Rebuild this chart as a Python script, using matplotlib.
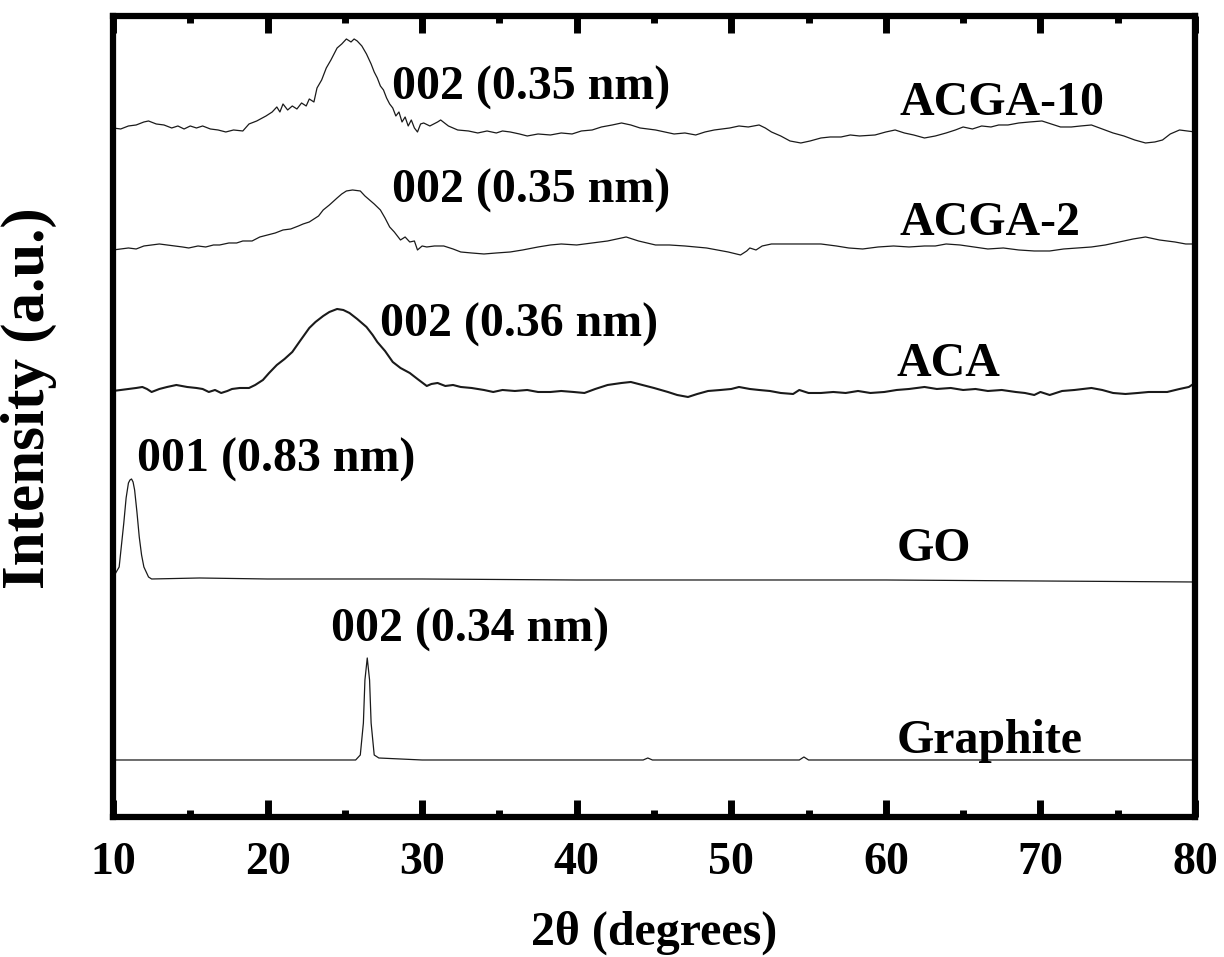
import matplotlib
matplotlib.use("Agg")
import matplotlib.pyplot as plt
from matplotlib.ticker import MultipleLocator

# ---- data (2theta in degrees, intensity in a.u. relative to each baseline) ----
acga10_tt = [10.0, 10.5, 11.0, 11.5, 12.0, 12.3, 12.8, 13.3, 13.8, 14.2, 14.6, 15.0, 15.4, 15.8, 16.3,
             16.8, 17.3, 17.8, 18.4, 18.8, 19.3, 19.9, 20.3, 20.6, 20.8, 21.0, 21.3, 21.6, 21.9, 22.2,
             22.5, 22.7, 23.0, 23.2, 23.5, 23.8, 24.1, 24.5, 24.8, 25.1, 25.4, 25.6, 25.8, 26.1, 26.4,
             26.7, 26.9, 27.1, 27.3, 27.5, 27.7, 27.9, 28.1, 28.3, 28.5, 28.7, 28.9, 29.1, 29.3, 29.5,
             29.7, 29.9, 30.1, 30.5, 31.0, 31.2, 31.7, 32.3, 33.0, 33.6, 34.2, 34.8, 35.2, 35.7, 36.3,
             36.8, 37.5, 38.3, 39.0, 39.7, 40.3, 41.0, 41.6, 42.3, 42.9, 43.5, 44.1, 44.6, 45.1, 45.7,
             46.3, 47.0, 47.7, 48.3, 48.9, 49.4, 49.9, 50.5, 51.1, 51.8, 52.2, 52.6, 53.2, 53.8, 54.5,
             55.1, 55.8, 56.4, 57.1, 57.7, 58.3, 59.3, 60.0, 60.6, 61.2, 61.8, 62.5, 63.2, 63.9, 64.5,
             65.0, 65.6, 66.2, 66.8, 67.3, 67.9, 68.6, 69.3, 70.1, 70.7, 71.3, 72.0, 72.6, 73.3, 74.0,
             74.7, 75.4, 76.1, 76.8, 77.4, 77.9, 78.4, 79.0, 79.5, 80.0]
acga10_int = [2, 1, 4, 5, 8, 9, 6, 5, 2, 4, 1, 4, 2, 4, 1,
              0, -2, 0, -1, 6, 9, 14, 18, 23, 18, 26, 20, 24, 21, 27,
              24, 31, 28, 42, 50, 62, 70, 82, 86, 91, 88, 91, 89, 84, 76,
              66, 58, 52, 44, 40, 32, 26, 22, 14, 18, 8, 13, 4, 10, 2,
              -2, 6, 7, 4, 8, 10, 4, 0, -1, -3, -1, -3, -1, -2, -4,
              -6, -4, -5, -3, -4, -1, 0, 3, 5, 7, 5, 2, 1, 0, -2,
              -4, -3, -5, -2, 0, 1, 2, 4, 3, 5, 2, -2, -6, -11, -13,
              -11, -8, -7, -7, -5, -6, -5, -2, 0, -3, -5, -8, -6, -3, 0,
              3, 1, 4, 3, 5, 5, 7, 8, 9, 6, 3, 3, 4, 5, 1,
              -3, -6, -10, -13, -12, -10, -4, 0, -1, -2]

acga2_tt = [10.0, 10.5, 11.0, 11.5, 12.0, 12.5, 13.0, 13.5, 14.0, 14.5, 14.9, 15.5, 16.0, 16.5, 16.9,
            17.5, 18.0, 18.4, 19.0, 19.5, 20.0, 20.5, 21.0, 21.5, 22.0, 22.3, 22.7, 23.0, 23.3, 23.6,
            24.0, 24.5, 24.8, 25.1, 25.5, 26.0, 26.3, 26.6, 26.9, 27.3, 27.6, 27.9, 28.2, 28.6, 28.9,
            29.2, 29.5, 29.7, 30.0, 30.3, 30.8, 31.4, 32.0, 32.5, 33.2, 34.0, 34.8, 35.7, 36.5, 37.5,
            38.3, 39.0, 40.0, 41.0, 42.0, 43.2, 44.0, 45.1, 46.0, 47.0, 47.7, 48.4, 49.1, 49.8, 50.6,
            51.0, 51.2, 51.6, 52.0, 52.6, 53.5, 54.5, 55.8, 56.8, 57.6, 58.5, 59.5, 60.5, 61.5, 62.5,
            63.2, 63.9, 64.8, 65.7, 66.6, 67.6, 68.6, 69.6, 70.6, 71.5, 72.4, 73.3, 74.2, 75.1, 76.0,
            76.8, 77.7, 78.7, 79.4, 80.0]
acga2_int = [-4, -3, -2, -3, 0, 1, 2, 1, 0, -1, -2, 0, -1, 1, 1,
             3, 3, 5, 5, 9, 11, 13, 16, 17, 20, 22, 24, 27, 30, 36,
             41, 48, 52, 55, 56, 55, 50, 46, 42, 36, 28, 19, 14, 6, 9,
             4, 5, -4, 0, -1, 0, 0, -3, -6, -7, -8, -7, -6, -4, -1,
             1, 2, 1, 3, 5, 9, 5, 1, 1, 0, -1, -2, -4, -6, -9,
             -5, -2, -4, 0, 2, 2, 2, 2, 0, -2, -3, -1, 0, -1, 0,
             0, 2, 1, -1, -3, -2, -4, -5, -5, -3, -2, -1, 1, 4, 7,
             9, 6, 4, 2, 2]

aca_tt = [10.0, 10.5, 11.0, 11.5, 11.9, 12.2, 12.5, 13.0, 13.5, 14.1, 14.8, 15.4, 15.8, 16.2, 16.6,
          17.0, 17.4, 17.7, 18.2, 18.8, 19.2, 19.7, 20.1, 20.6, 21.1, 21.6, 22.1, 22.7, 23.1, 23.6,
          24.0, 24.5, 24.9, 25.3, 25.8, 26.4, 26.8, 27.1, 27.6, 28.1, 28.6, 29.2, 29.7, 30.3, 30.6,
          31.0, 31.5, 32.0, 32.5, 33.2, 34.0, 34.6, 35.2, 36.0, 36.8, 37.5, 38.3, 39.0, 39.8, 40.5,
          41.2, 42.0, 42.9, 43.5, 44.0, 45.0, 45.9, 46.5, 47.2, 47.8, 48.5, 49.3, 50.0, 50.5, 51.2,
          51.8, 52.5, 53.2, 54.0, 54.4, 55.0, 55.8, 56.6, 57.4, 58.2, 59.0, 59.9, 60.7, 61.5, 62.5,
          63.3, 64.2, 65.0, 65.8, 66.6, 67.5, 68.4, 69.0, 69.6, 70.0, 70.6, 71.4, 72.2, 73.3, 74.0,
          74.7, 75.5, 76.3, 77.0, 78.2, 79.0, 79.6, 80.0]
aca_int = [0, 1, 2, 3, 4, 2, -1, 2, 4, 6, 4, 3, 2, -1, 1,
           -2, 0, 2, 3, 3, 6, 11, 18, 26, 32, 39, 50, 63, 69, 75,
           79, 82, 81, 78, 72, 64, 56, 49, 40, 29, 23, 18, 12, 5, 7,
           8, 5, 6, 4, 3, 1, -1, 1, 0, 1, -1, -1, 0, -1, -2,
           2, 6, 8, 9, 7, 3, -1, -4, -6, -3, 0, 1, 2, 4, 2,
           1, 0, -2, -3, 1, -2, -2, -1, -2, 0, -2, -1, 1, 2, 4,
           2, 3, 1, 2, 0, 1, -1, -2, -4, -1, -4, 0, 1, 3, 1,
           -2, -3, -2, -1, -1, 2, 4, 8]

go_tt = [10.0, 10.1, 10.4, 10.55, 10.7, 10.85, 11.0, 11.1, 11.2, 11.3, 11.4, 11.55, 11.7, 11.85, 12.0,
         12.3, 12.5, 15.6, 20.0, 30.0, 40.0, 50.0, 60.0, 70.0, 80.0]
go_int = [3, 5, 13, 35, 57, 82, 97, 100, 101, 98, 90, 68, 43, 25, 13,
          3, 1, 2, 1, 1, 0, 0, 0, -1, -2]

graphite_tt = [10.0, 25.7, 26.0, 26.2, 26.3, 26.45, 26.6, 26.7, 26.9, 27.2, 30.0, 44.3, 44.6, 44.9,
               54.4, 54.7, 55.0, 80.0]
graphite_int = [0, 0, 5, 37, 80, 102, 80, 37, 5, 2, 0, 0, 2, 0, 0, 3, 0, 0]

samples = ["ACGA-10", "ACGA-2", "ACA", "GO", "Graphite"]
offsets = [687, 571, 426, 237, 57]
peak_labels = ["002 (0.35 nm)", "002 (0.35 nm)", "002 (0.36 nm)", "001 (0.83 nm)", "002 (0.34 nm)"]
peak_label_pos = [(28.05, 717), (28.05, 614), (27.3, 480), (11.55, 345), (24.1, 175)]
name_label_pos = [(60.9, 702), (60.9, 582), (60.7, 441), (60.7, 256), (60.7, 64)]

series = [(acga10_tt, acga10_int), (acga2_tt, acga2_int), (aca_tt, aca_int),
          (go_tt, go_int), (graphite_tt, graphite_int)]
widths = [0.9, 0.9, 1.5, 0.9, 0.9]

plt.rcParams["font.family"] = ["Liberation Serif", "DejaVu Serif"]
plt.rcParams["font.weight"] = "bold"

fig = plt.figure(figsize=(12.24, 9.57), dpi=100)
ax = fig.add_axes([0.0923, 0.1463, 0.884, 0.837])

for (tt, inten), off, lw in zip(series, offsets, widths):
    ax.plot(tt, [v + off for v in inten], color="#1a1a1a", lw=lw)

for txt, (x, y) in zip(peak_labels, peak_label_pos):
    ax.text(x, y, txt, fontsize=34.5, fontweight="bold", ha="left", va="baseline")
for txt, (x, y) in zip(samples, name_label_pos):
    ax.text(x, y, txt, fontsize=34.5, fontweight="bold", ha="left", va="baseline")

ax.set_xlim(10, 80)
ax.set_ylim(0, 801)
ax.xaxis.set_major_locator(MultipleLocator(10))
ax.xaxis.set_minor_locator(MultipleLocator(5))
ax.set_yticks([])
ax.tick_params(axis="x", which="both", direction="in", top=True, bottom=True, labelsize=33, pad=18)
ax.tick_params(axis="x", which="major", length=12, width=5)
ax.tick_params(axis="x", which="minor", length=5, width=5)
for s in ax.spines.values():
    s.set_linewidth(4.5)

ax.set_xlabel("2θ (degrees)", fontsize=34.5, fontweight="bold", labelpad=19)
ax.set_ylabel("Intensity (a.u.)", fontsize=44, fontweight="bold")
ax.yaxis.set_label_coords(-0.052, 0.523)

fig.savefig("out.png", dpi=100)
